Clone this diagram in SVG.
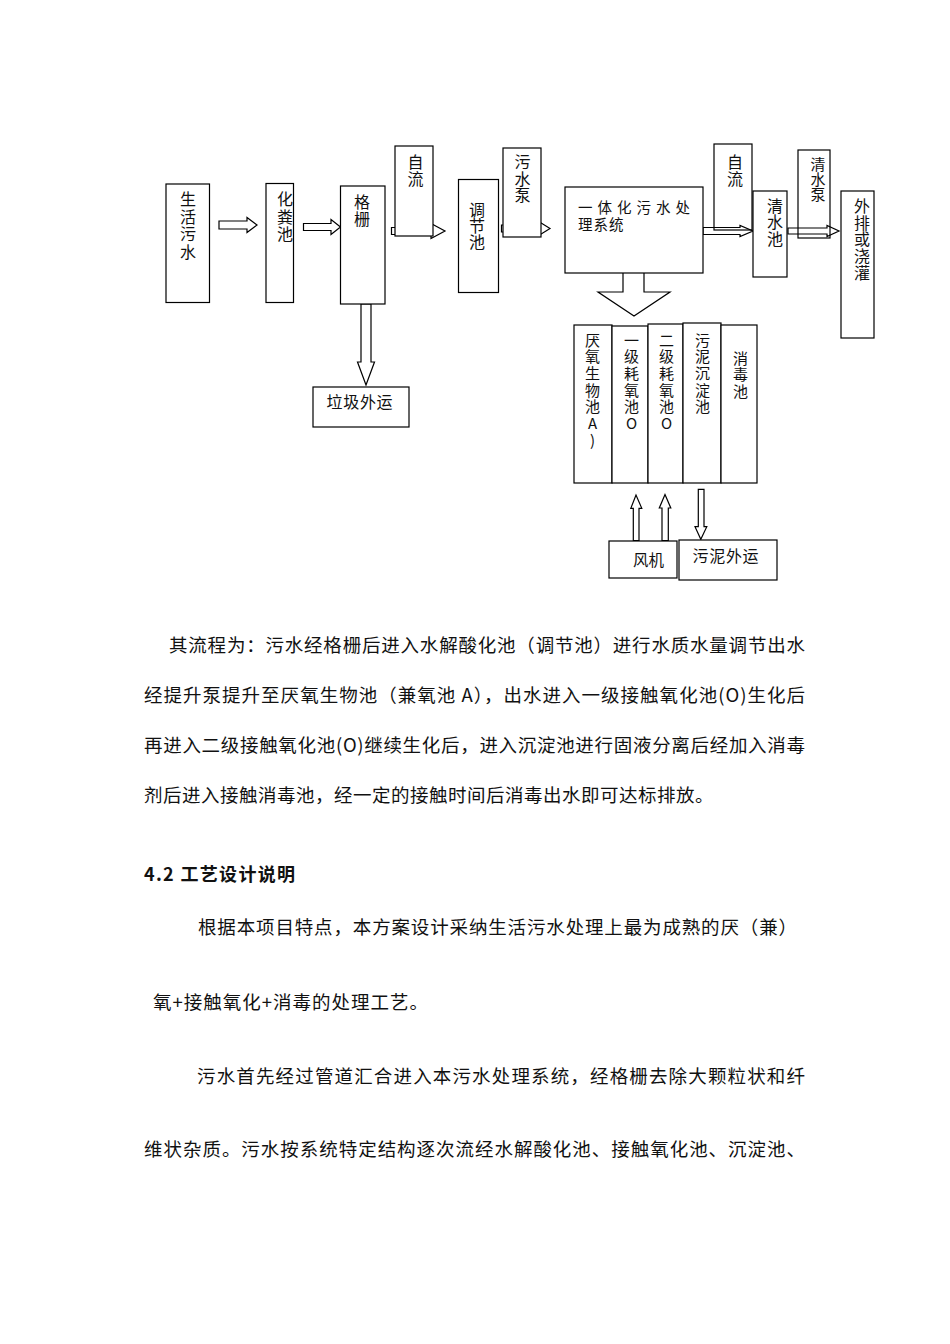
<svg xmlns="http://www.w3.org/2000/svg" width="950" height="1344" viewBox="0 0 950 1344">
<style>
.box{fill:#fff;stroke:#000;stroke-width:1.2}
.open{fill:none;stroke:#000;stroke-width:1.2}
.arr{fill:#fff;stroke:#000;stroke-width:1.2;stroke-linejoin:miter}
.v{writing-mode:vertical-rl;text-orientation:upright;font-family:"Noto Sans CJK SC",sans-serif;font-size:16px;fill:#111}
.vs{writing-mode:vertical-rl;text-orientation:upright;font-family:"Noto Sans CJK SC",sans-serif;font-size:15px;letter-spacing:1.7px;fill:#111}
.th{font-family:"Noto Sans CJK SC",sans-serif;font-size:14.5px;fill:#111}
.body{font-family:"Noto Sans CJK SC",sans-serif;font-size:18.5px;fill:#111}
.hd{font-weight:bold}
</style>
<rect width="950" height="1344" fill="#fff"/>
<g id="connectors">
  <polygon class="arr" points="219,221 247,221 247,217.5 257,225 247,232.5 247,229 219,229"/>
  <polygon class="arr" points="303.5,223.5 331,223.5 331,219.5 340.5,227 331,234.5 331,230.5 303.5,230.5"/>
  <polygon class="arr" points="391.5,227.5 431,227.5 431,223.5 445,231 431,238.5 431,234.5 391.5,234.5"/>
  <polygon class="arr" points="501.5,225 538,225 538,221 550,228.5 538,236 538,232 501.5,232"/>
  <polygon class="arr" points="703,227.5 740,227.5 740,225.5 753,231 740,236.5 740,234.5 703,234.5"/>
  <polygon class="arr" points="788,228 827,228 827,225.5 839,231 827,236.5 827,234 788,234"/>
  <path class="arr" d="M623,272.6 V292 H598 L634,316 L670,292 H644 V272.6"/>
  <polygon class="arr" points="361,304 371,304 371,362 374.5,362 366,385 357.5,362 361,362"/>
  <polygon class="arr" points="633.3,540.5 639,540.5 639,508.3 641.8,508.3 636,495 630.8,508.3 633.3,508.3"/>
  <polygon class="arr" points="662,540.5 668.3,540.5 668.3,508 670.8,508 665,494.5 659.3,508 662,508"/>
  <polygon class="arr" points="698.3,489.3 704,489.3 704,526.7 706.8,526.7 700.8,539.3 695,526.7 698.3,526.7"/>
</g>
<g id="n-shenghuowushui">
  <rect class="box" x="166" y="184" width="43.5" height="118.5"/>
  <text class="v" x="188" y="191" style="letter-spacing:1.5px">生活污水</text>
</g>
<g id="n-huafenchi">
  <rect class="box" x="266" y="183.5" width="27.5" height="119"/>
  <text class="v" x="285" y="191" style="letter-spacing:1.5px">化粪池</text>
</g>
<g id="n-gezha">
  <rect class="box" x="340.5" y="186" width="44.5" height="118"/>
  <text class="v" x="362" y="194" style="letter-spacing:0.7px">格栅</text>
</g>
<g id="n-ziliu1">
  <rect class="box" x="395" y="146" width="38" height="90"/>
  <text class="v" x="415.5" y="154" style="letter-spacing:0.7px">自流</text>
</g>
<g id="n-tiaojiechi">
  <rect class="box" x="458.5" y="179.5" width="40" height="113"/>
  <text class="v" x="477" y="202">调节池</text>
</g>
<g id="n-wushuibeng">
  <rect class="box" x="503" y="148" width="38" height="89"/>
  <text class="v" x="522.5" y="154" style="letter-spacing:0.5px">污水泵</text>
</g>
<g id="n-yitihua">
  <rect class="box" x="565" y="187" width="138" height="86"/>
  <text class="th"><tspan x="578 597.5 617 636.5 656 675.5" y="213">一体化污水处</tspan><tspan x="578 593.5 609" y="230">理系统</tspan></text>
</g>
<g id="n-ziliu2">
  <rect class="open" x="714" y="144" width="38" height="86"/>
  <text class="v" x="735" y="154" style="letter-spacing:0.7px">自流</text>
</g>
<g id="n-qingshuichi">
  <rect class="box" x="753" y="191" width="34" height="86"/>
  <text class="v" x="775" y="198" style="letter-spacing:0.3px">清水池</text>
</g>
<g id="n-qingshuibeng">
  <rect class="open" x="798" y="150" width="32" height="88"/>
  <text class="v" x="818" y="157" style="font-size:15px">清水泵</text>
</g>
<g id="n-waipai">
  <rect class="box" x="841" y="191" width="33" height="147"/>
  <text class="v" x="862" y="198" style="letter-spacing:0.7px">外排或浇灌</text>
</g>
<g id="n-lajiwaiyun">
  <rect class="box" x="313" y="387" width="96" height="40"/>
  <text class="th" style="font-size:16px;letter-spacing:0.7px" x="326.5" y="407.5">垃圾外运</text>
</g>
<g id="n-yanyang">
  <rect class="box" x="574" y="325" width="38" height="158"/>
  <text class="vs" x="592.5" y="332.5">厌氧生物池A)</text>
</g>
<g id="n-yiji">
  <rect class="box" x="612" y="326" width="36" height="157"/>
  <text class="vs" x="631.5" y="332.5">一级耗氧池O</text>
</g>
<g id="n-erji">
  <rect class="box" x="648" y="324" width="35" height="159"/>
  <text class="vs" x="666.5" y="332.5">二级耗氧池O</text>
</g>
<g id="n-chendian">
  <rect class="box" x="683" y="323" width="38" height="160"/>
  <text class="vs" x="702.5" y="332.5">污泥沉淀池</text>
</g>
<g id="n-xiaodu">
  <rect class="box" x="721" y="325" width="36" height="158"/>
  <text class="vs" x="740.5" y="350.5">消毒池</text>
</g>
<g id="n-fengji">
  <rect class="box" x="609" y="541" width="68" height="37"/>
  <text class="th" style="font-size:15.5px" x="633" y="566">风机</text>
</g>
<g id="n-wuniwaiyun">
  <rect class="box" x="679" y="540" width="98" height="40"/>
  <text class="th" style="font-size:16px;letter-spacing:0.7px" x="692.5" y="562">污泥外运</text>
</g>
<g id="body-text">
  <text class="body" x="169" y="651.5" textLength="636" lengthAdjust="spacing">其流程为：污水经格栅后进入水解酸化池（调节池）进行水质水量调节出水</text>
  <text class="body" x="144" y="701.5" textLength="661" lengthAdjust="spacing">经提升泵提升至厌氧生物池（兼氧池 A），出水进入一级接触氧化池(O)生化后</text>
  <text class="body" x="144" y="751.5" textLength="661" lengthAdjust="spacing">再进入二级接触氧化池(O)继续生化后，进入沉淀池进行固液分离后经加入消毒</text>
  <text class="body" x="144" y="801.5" style="letter-spacing:0.5px">剂后进入接触消毒池，经一定的接触时间后消毒出水即可达标排放。</text>
  <text class="body hd" x="144" y="880.5" style="font-size:18px" textLength="151" lengthAdjust="spacing">4.2 工艺设计说明</text>
  <text class="body" x="198" y="933.5" textLength="599" lengthAdjust="spacing">根据本项目特点，本方案设计采纳生活污水处理上最为成熟的厌（兼）</text>
  <text class="body" x="153" y="1008.5" textLength="275" lengthAdjust="spacing">氧+接触氧化+消毒的处理工艺。</text>
  <text class="body" x="197" y="1082.5" textLength="608" lengthAdjust="spacing">污水首先经过管道汇合进入本污水处理系统，经格栅去除大颗粒状和纤</text>
  <text class="body" x="144" y="1155.5" textLength="661" lengthAdjust="spacing">维状杂质。污水按系统特定结构逐次流经水解酸化池、接触氧化池、沉淀池、</text>
</g>
</svg>
